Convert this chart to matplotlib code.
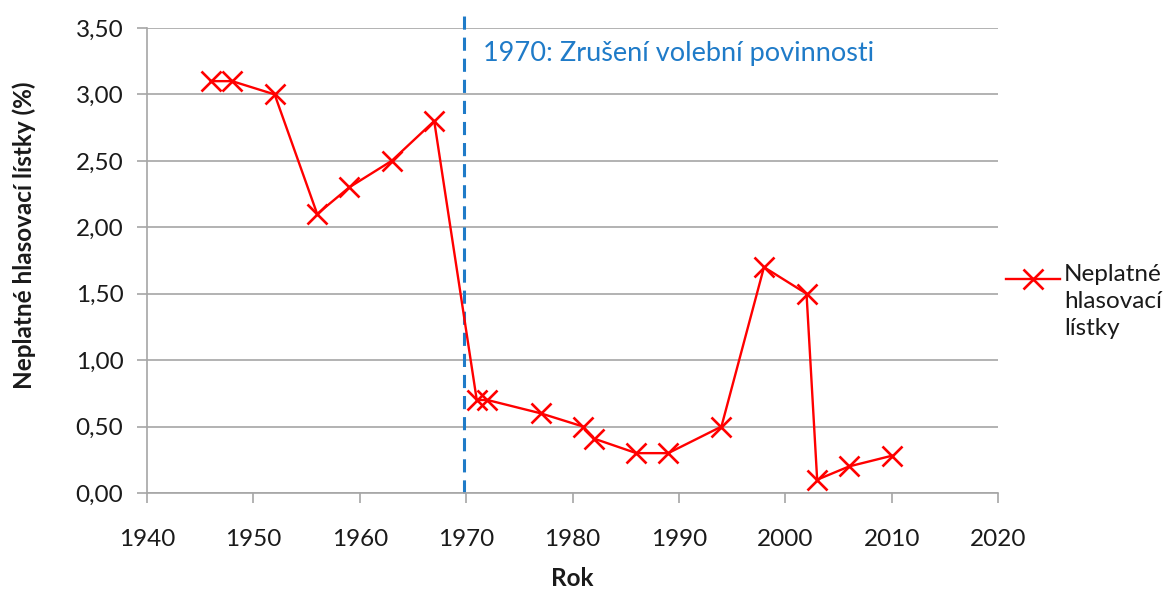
import matplotlib
matplotlib.use("Agg")
import matplotlib.pyplot as plt
from matplotlib.lines import Line2D

plt.rcParams['font.family'] = ['Lato', 'DejaVu Sans']

years = [1946, 1948, 1952, 1956, 1959, 1963, 1967, 1971, 1972, 1977,
         1981, 1982, 1986, 1989, 1994, 1998, 2002, 2003, 2006, 2010]
invalid = [3.1, 3.1, 3.0, 2.1, 2.3, 2.5, 2.8, 0.7, 0.7, 0.6,
           0.5, 0.41, 0.3, 0.3, 0.5, 1.7, 1.5, 0.1, 0.2, 0.28]
series_label = "Neplatné\nhlasovací\nlístky"
y_ticks = [0.0, 0.5, 1.0, 1.5, 2.0, 2.5, 3.0, 3.5]
y_tick_labels = ["0,00", "0,50", "1,00", "1,50", "2,00", "2,50", "3,00", "3,50"]
x_ticks = [1940, 1950, 1960, 1970, 1980, 1990, 2000, 2010, 2020]
event_year = 1969.8
event_text = "1970: Zrušení volební povinnosti"

W, H = 1171, 591
fig = plt.figure(figsize=(W / 100, H / 100), dpi=100)
ax = fig.add_axes([147 / W, 1 - 493 / H, (998 - 147) / W, (493 - 28) / H])

gray = '#A6A6A6'
txt = '#1a1a1a'
ax.set_xlim(1940, 2020)
ax.set_ylim(0, 3.5)
ax.set_yticks(y_ticks)
ax.set_yticklabels(y_tick_labels)
ax.set_xticks(x_ticks)
ax.yaxis.grid(True, color=gray, linewidth=1.2)
ax.set_axisbelow(True)
for s in ['top', 'right']:
    ax.spines[s].set_visible(False)
for s in ['left', 'bottom']:
    ax.spines[s].set_color(gray)
    ax.spines[s].set_linewidth(1.2)
ax.tick_params(axis='both', direction='out', length=7, width=1.2, color=gray,
               labelsize=17.5, labelcolor=txt)
ax.tick_params(axis='y', pad=10)
ax.tick_params(axis='x', pad=19)

ax.plot(years, invalid, color='#FF0000', linewidth=1.7, marker='x',
        markersize=15, markeredgewidth=1.9, clip_on=False, zorder=3)

ax.axvline(event_year, ymin=0, ymax=1.04, color='#1F7BC8', linewidth=2.2,
           dashes=(4.3, 2.6), clip_on=False, zorder=2)
ax.text(1971.6, 3.31, event_text, color='#1F7BC8', fontsize=19.5,
        ha='left', va='center')

ax.set_xlabel("Rok", fontsize=17.5, fontweight='bold', labelpad=12,
              color=txt)
fig.text(24 / W, 1 - 235 / H, "Neplatné hlasovací lístky (%)", fontsize=17.5,
         fontweight='bold', color=txt, rotation=90, ha='center', va='center')

# legend
fig.add_artist(Line2D([1006 / W, 1060 / W], [1 - 279 / H, 1 - 279 / H],
                      color='#FF0000', linewidth=1.7,
                      transform=fig.transFigure))
fig.add_artist(Line2D([1033 / W], [1 - 279 / H], color='#FF0000',
                      linestyle='none', marker='x', markersize=15,
                      markeredgewidth=1.9, transform=fig.transFigure))
fig.text(1064 / W, 1 - 264 / H, series_label, fontsize=17.5, ha='left',
         va='top', linespacing=1.36, color=txt)

fig.savefig("out.png", dpi=100)
